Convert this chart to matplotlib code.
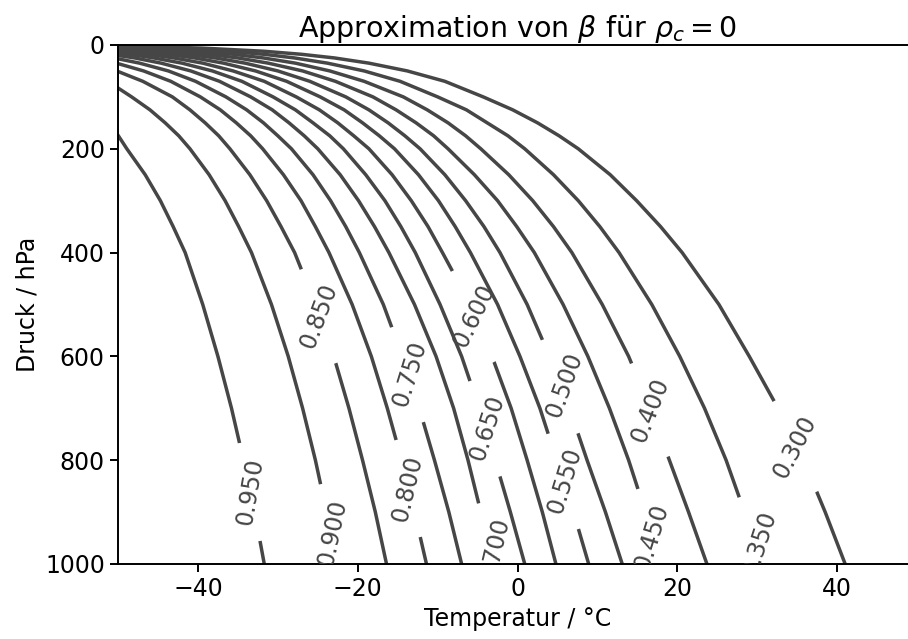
import numpy as np
import matplotlib.pyplot as plt
from matplotlib.path import Path
from matplotlib.transforms import IdentityTransform

# Isolinien von beta: Druck (hPa) und Temperatur (degC) je Linie
p_30 = [2.1, 3, 6, 12, 18, 25, 35, 50, 70, 100, 125, 150, 175, 200, 250, 300, 350, 400, 500, 600, 700, 800, 900, 1000]
t_30 = [-50, -46.6, -39.5, -31.8, -27.0, -22.9, -18.6, -13.8, -9.1, -4.3, -0.6, 2.5, 5.2, 7.6, 11.6, 14.9, 17.9, 20.6, 25.2, 29.0, 32.6, 35.8, 38.5, 41.0]
p_35 = [3.2, 4, 6, 12, 18, 25, 35, 50, 70, 100, 125, 150, 175, 200, 250, 300, 350, 400, 500, 600, 700, 800, 900, 1000]
t_35 = [-50, -47.7, -43.7, -36.3, -31.7, -27.9, -23.8, -19.2, -14.7, -10.0, -6.4, -3.8, -1.2, 0.9, 4.5, 7.6, 10.3, 12.7, 16.8, 20.3, 23.4, 26.1, 28.4, 30.6]
p_40 = [4.4, 6, 12, 18, 25, 35, 50, 70, 100, 125, 150, 175, 200, 250, 300, 350, 400, 500, 600, 700, 800, 900, 1000]
t_40 = [-50, -47.0, -40.0, -35.5, -31.8, -27.8, -23.5, -19.2, -14.3, -11.3, -8.7, -6.5, -4.6, -1.1, 1.9, 4.5, 6.8, 10.6, 13.9, 16.6, 19.0, 21.4, 23.7]
p_45 = [5.9, 8, 12, 18, 25, 35, 50, 70, 100, 125, 150, 175, 200, 250, 300, 350, 400, 500, 600, 700, 800, 900, 1000]
t_45 = [-50, -47.0, -42.9, -38.6, -35.0, -31.2, -26.9, -22.8, -18.1, -15.2, -12.7, -10.5, -8.7, -5.4, -2.5, -0.1, 2.1, 5.7, 8.8, 11.5, 13.9, 16.0, 17.9]
p_50 = [7.6, 12, 18, 25, 35, 50, 70, 100, 125, 150, 175, 200, 250, 300, 350, 400, 500, 600, 700, 800, 900, 1000]
t_50 = [-50, -45.5, -41.3, -37.8, -34.1, -30.0, -26.0, -21.5, -18.6, -16.2, -14.1, -12.2, -9.1, -6.5, -4.2, -2.2, 1.2, 4.0, 6.5, 8.7, 11.0, 13.1]
p_55 = [9.7, 12, 18, 25, 35, 50, 70, 100, 125, 150, 175, 200, 250, 300, 350, 400, 500, 600, 700, 800, 900, 1000]
t_55 = [-50, -47.9, -43.8, -40.4, -36.8, -32.8, -28.9, -24.7, -21.7, -19.4, -17.3, -15.4, -12.4, -9.9, -7.8, -5.9, -2.5, 0.3, 2.8, 4.9, 7.0, 8.9]
p_60 = [12.3, 15, 18, 25, 35, 50, 70, 100, 125, 150, 175, 200, 250, 300, 350, 400, 500, 600, 700, 800, 900, 1000]
t_60 = [-50, -48.1, -46.3, -43.0, -39.4, -35.6, -31.7, -27.7, -24.8, -22.5, -20.5, -18.6, -15.7, -13.3, -11.2, -9.4, -5.9, -3.2, -0.8, 1.2, 3.1, 4.8]
p_65 = [15.8, 20, 25, 35, 50, 70, 100, 125, 150, 175, 200, 250, 300, 350, 400, 500, 600, 700, 800, 900, 1000]
t_65 = [-50, -47.7, -45.5, -42.0, -38.2, -34.5, -30.6, -27.8, -25.6, -23.5, -21.8, -19.0, -16.6, -14.6, -12.8, -9.7, -7.0, -4.8, -2.8, -0.9, 0.9]
p_70 = [20.2, 25, 35, 50, 70, 100, 125, 150, 175, 200, 250, 300, 350, 400, 500, 600, 700, 800, 900, 1000]
t_70 = [-50, -47.9, -44.6, -40.9, -37.3, -33.4, -30.7, -28.6, -26.7, -25.0, -22.2, -19.9, -17.9, -16.1, -12.9, -10.2, -8.0, -6.2, -4.6, -3.1]
p_75 = [26.6, 35, 50, 70, 100, 125, 150, 175, 200, 250, 300, 350, 400, 500, 600, 700, 800, 900, 1000]
t_75 = [-50, -47.3, -43.7, -40.3, -36.5, -33.9, -31.8, -30.0, -28.3, -25.6, -23.4, -21.5, -19.8, -16.8, -14.4, -12.3, -10.4, -8.6, -7.0]
p_80 = [35.9, 50, 70, 100, 125, 150, 175, 200, 250, 300, 350, 400, 500, 600, 700, 800, 900, 1000]
t_80 = [-50, -46.8, -43.4, -39.7, -37.2, -35.2, -33.4, -31.9, -29.3, -27.1, -25.3, -23.6, -20.7, -18.3, -16.3, -14.5, -12.9, -11.4]
p_85 = [51, 70, 100, 125, 150, 175, 200, 250, 300, 350, 400, 500, 600, 700, 800, 900, 1000]
t_85 = [-50, -46.9, -43.2, -41.0, -39.1, -37.4, -36.0, -33.5, -31.4, -29.6, -27.9, -25.3, -23.0, -21.1, -19.4, -17.8, -16.4]
p_90 = [82.9, 100, 125, 150, 175, 200, 250, 300, 350, 400, 500, 600, 700, 800, 900, 1000]
t_90 = [-50, -48.3, -46.0, -44.1, -42.4, -41.0, -38.6, -36.6, -34.9, -33.3, -30.8, -28.7, -26.9, -25.3, -23.9, -22.6]
p_95 = [174, 200, 250, 300, 350, 400, 500, 600, 700, 800, 900, 1000]
t_95 = [-50, -48.9, -46.6, -44.7, -43.1, -41.6, -39.4, -37.5, -35.8, -34.3, -32.9, -31.7]

curves = [(p_30, t_30), (p_35, t_35), (p_40, t_40), (p_45, t_45), (p_50, t_50),
          (p_55, t_55), (p_60, t_60), (p_65, t_65), (p_70, t_70), (p_75, t_75),
          (p_80, t_80), (p_85, t_85), (p_90, t_90), (p_95, t_95)]

# Beschriftungen der Linien (Lage und Drehung)
label_level = [0.30, 0.35, 0.40, 0.45, 0.50, 0.55, 0.60, 0.65, 0.70, 0.75, 0.80, 0.85, 0.90, 0.95]
label_t = [34.7, 30.3, 16.6, 16.8, 5.9, 5.9, -5.4, -3.8, -2.9, -13.5, -13.8, -24.8, -23.2, -33.4]
label_p = [774, 960, 703, 948, 655, 840, 522, 738, 975, 634, 855, 522, 940, 861]
label_rot = [62.4, 72.1, 68.6, 72.9, 70.1, 72.9, 63.8, 72.1, 76.6, 72.9, 76.6, 69.3, 78.2, 80.4]

col = '#464646'
gap_len = 100   # Pixel, Luecke entlang der Linie
gap_wid = 30

plt.rcParams['font.size'] = 17

fig = plt.figure(figsize=(9.08, 6.39), dpi=100)
ax = fig.add_axes([0.13, 0.1174, 0.88, 0.8122])
ax.set_xlim(-50, 50)
ax.set_ylim(1000, 0)

W, H = fig.bbox.width, fig.bbox.height
for (pp, tt), t, p, r, lev in zip(curves, label_t, label_p, label_rot, label_level):
    line, = ax.plot(tt, pp, color=col, lw=2.5, solid_joinstyle='round', zorder=2)
    # Luecke in der Linie unter der Beschriftung (Linie faellt nach rechts ab)
    c = np.array(ax.transData.transform((t, p)))
    a = np.deg2rad(-r)
    d = np.array([np.cos(a), np.sin(a)]) * gap_len / 2
    n = np.array([-np.sin(a), np.cos(a)]) * gap_wid / 2
    hole = [c + d + n, c + d - n, c - d - n, c - d + n, c + d + n]
    verts = [(0, 0), (W, 0), (W, H), (0, H), (0, 0)] + [tuple(v) for v in hole]
    codes = [Path.MOVETO, Path.LINETO, Path.LINETO, Path.LINETO, Path.CLOSEPOLY] * 2
    line.set_clip_path(Path(verts, codes), IdentityTransform())
    ax.text(t, p, '%.3f' % lev, rotation=r, rotation_mode='anchor',
            ha='center', va='center', color=col, fontsize=17, clip_on=True, zorder=3)

ax.set_xticks([-40, -20, 0, 20, 40])
ax.set_yticks([0, 200, 400, 600, 800, 1000])
ax.tick_params(length=6, width=1.4)
for s in ax.spines.values():
    s.set_linewidth(1.4)

ax.set_xlabel('Temperatur / °C')
ax.set_ylabel('Druck / hPa')
ax.set_title(r'Approximation von $\beta$ für $\rho_c = 0$', fontsize=20.5)

fig.savefig('out.png', dpi=100)
